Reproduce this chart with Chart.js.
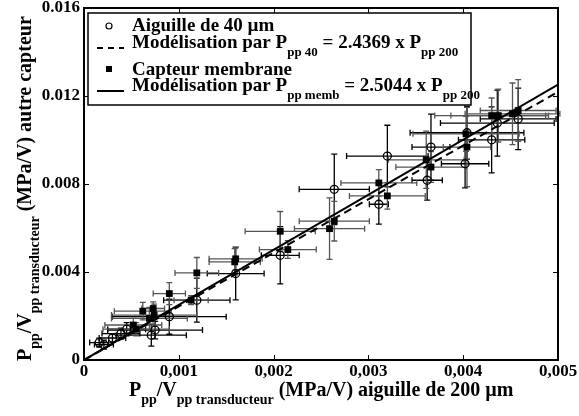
<!DOCTYPE html>
<html>
<head>
<meta charset="utf-8">
<script src="https://cdn.jsdelivr.net/npm/chart.js@4.4.1/dist/chart.umd.min.js"></script>
<style>
  html, body { margin: 0; padding: 0; background: #fff; }
  #wrap { width: 579px; height: 416px; }
</style>
</head>
<body>
<div id="wrap"><canvas id="chart" width="579" height="416"></canvas></div>
<script>
// Aiguille de 40 µm (open circles)
const needleX    = [0.00016, 0.00021, 0.00030, 0.00039, 0.00045, 0.00071, 0.00075, 0.00090, 0.00119, 0.00160, 0.00207,
                    0.00264, 0.00311, 0.00320, 0.00362, 0.00366, 0.00402, 0.00404, 0.00430, 0.00436, 0.00458];
const needleY    = [0.00079, 0.00070, 0.00100, 0.00120, 0.00140, 0.00113, 0.00136, 0.00197, 0.00272, 0.00393, 0.00476,
                    0.00776, 0.00708, 0.00927, 0.00817, 0.00968, 0.00892, 0.01033, 0.01001, 0.01077, 0.01096];
const needleXErr = [0.00010, 0.00010, 0.00014, 0.00020, 0.00020, 0.00037, 0.00050, 0.00060, 0.00035, 0.00030, 0.00020,
                    0.00037, 0.00010, 0.00043, 0.00016, 0.00020, 0.00025, 0.00060, 0.00035, 0.00060, 0.00040];
const needleYErr = [0.00020, 0.00020, 0.00020, 0.00025, 0.00030, 0.00050, 0.00040, 0.00080, 0.00100, 0.00120, 0.00130,
                    0.00160, 0.00090, 0.00140, 0.00090, 0.00150, 0.00110, 0.00120, 0.00150, 0.00150, 0.00140];

// Capteur membrane (filled squares)
const membX    = [0.00052, 0.00055, 0.00062, 0.00069, 0.00073, 0.00074, 0.00090, 0.00113, 0.00119, 0.00159, 0.00160,
                  0.00207, 0.00215, 0.00259, 0.00264, 0.00311, 0.00320, 0.00361, 0.00366, 0.00403, 0.00404,
                  0.00430, 0.00437, 0.00452, 0.00458];
const membY    = [0.00159, 0.00140, 0.00222, 0.00189, 0.00234, 0.00204, 0.00302, 0.00272, 0.00396, 0.00446, 0.00460,
                  0.00585, 0.00502, 0.00597, 0.00631, 0.00805, 0.00746, 0.00910, 0.00877, 0.01028, 0.00968,
                  0.01111, 0.01111, 0.01119, 0.01134];
const membXErr = [0.00030, 0.00035, 0.00030, 0.00040, 0.00012, 0.00045, 0.00017, 0.00018, 0.00023, 0.00027, 0.00028,
                  0.00037, 0.00030, 0.00037, 0.00037, 0.00040, 0.00040, 0.00040, 0.00037, 0.00056, 0.00025,
                  0.00060, 0.00050, 0.00050, 0.00040];
const membYErr = [0.00030, 0.00030, 0.00040, 0.00050, 0.00030, 0.00050, 0.00050, 0.00020, 0.00070, 0.00060, 0.00050,
                  0.00090, 0.00040, 0.00140, 0.00090, 0.00060, 0.00060, 0.00130, 0.00070, 0.00080, 0.00180,
                  0.00080, 0.00120, 0.00140, 0.00140];

// fitted slopes
const slope40 = 2.4369;
const slopeMemb = 2.5044;
const fitX = [0, 0.005];

const xTicks = [0, 0.001, 0.002, 0.003, 0.004, 0.005];
const xTickLabels = ['0', '0,001', '0,002', '0,003', '0,004', '0,005'];
const yTicks = [0, 0.004, 0.008, 0.012, 0.016];
const yTickLabels = ['0', '0.004', '0.008', '0.012', '0.016'];

const FONT = '"Liberation Serif", "Times New Roman", serif';
const toPts = (xs, ys) => xs.map((x, i) => ({ x: x, y: ys[i] }));

// draws text runs with subscripts starting at (x, y) baseline
function drawRich(ctx, parts, x, y, size, subSize) {
    let cx = x;
    parts.forEach(p => {
        ctx.font = 'bold ' + (p.sub ? subSize : size) + 'px ' + FONT;
        ctx.fillText(p.t, cx, p.sub ? y + 8 : y);
        cx += ctx.measureText(p.t).width;
    });
}

const errorBars = {
    id: 'errorBars',
    beforeDatasetsDraw(chart) {
        const ctx = chart.ctx;
        const xs = chart.scales.x, ys = chart.scales.y;
        ctx.save();
        ctx.lineWidth = 1.3;
        chart.data.datasets.forEach(ds => {
            if (!ds.errX) return;
            ctx.strokeStyle = ds.errColor;
            ds.data.forEach((p, i) => {
                const px = xs.getPixelForValue(p.x), py = ys.getPixelForValue(p.y);
                const x0 = xs.getPixelForValue(p.x - ds.errX[i]), x1 = xs.getPixelForValue(p.x + ds.errX[i]);
                const y0 = ys.getPixelForValue(p.y - ds.errY[i]), y1 = ys.getPixelForValue(p.y + ds.errY[i]);
                ctx.beginPath();
                ctx.moveTo(x0, py); ctx.lineTo(x1, py);
                ctx.moveTo(x0, py - 3); ctx.lineTo(x0, py + 3);
                ctx.moveTo(x1, py - 3); ctx.lineTo(x1, py + 3);
                ctx.moveTo(px, y0); ctx.lineTo(px, y1);
                ctx.moveTo(px - 3, y0); ctx.lineTo(px + 3, y0);
                ctx.moveTo(px - 3, y1); ctx.lineTo(px + 3, y1);
                ctx.stroke();
            });
        });
        ctx.restore();
    }
};

const frameAndText = {
    id: 'frameAndText',
    afterDraw(chart) {
        const ctx = chart.ctx;
        const a = chart.chartArea;
        const xs = chart.scales.x, ys = chart.scales.y;
        ctx.save();
        ctx.strokeStyle = '#000';
        ctx.fillStyle = '#000';

        // frame
        ctx.lineWidth = 2;
        ctx.strokeRect(a.left, a.top, a.right - a.left, a.bottom - a.top);

        // inward ticks on all four sides
        ctx.lineWidth = 1;
        ctx.beginPath();
        xTicks.forEach(v => {
            const px = Math.round(xs.getPixelForValue(v)) + 0.5;
            ctx.moveTo(px, a.bottom); ctx.lineTo(px, a.bottom - 5);
            ctx.moveTo(px, a.top); ctx.lineTo(px, a.top + 5);
        });
        yTicks.forEach(v => {
            const py = Math.round(ys.getPixelForValue(v)) + 0.5;
            ctx.moveTo(a.left, py); ctx.lineTo(a.left + 5, py);
            ctx.moveTo(a.right, py); ctx.lineTo(a.right - 5, py);
        });
        ctx.stroke();

        // tick labels
        ctx.font = 'bold 17px ' + FONT;
        ctx.textAlign = 'center';
        ctx.textBaseline = 'top';
        xTicks.forEach((v, i) => ctx.fillText(xTickLabels[i], xs.getPixelForValue(v), a.bottom + 3));
        ctx.textAlign = 'right';
        ctx.textBaseline = 'middle';
        yTicks.forEach((v, i) => ctx.fillText(yTickLabels[i], a.left - 4, ys.getPixelForValue(v)));

        // axis titles
        ctx.textAlign = 'left';
        ctx.textBaseline = 'alphabetic';
        drawRich(ctx, [
            { t: 'P' }, { t: 'pp', sub: true }, { t: '/V' }, { t: 'pp transducteur', sub: true },
            { t: ' (MPa/V) aiguille de 200 µm' }
        ], 129, 396, 20, 14);

        ctx.save();
        ctx.translate(31, 361);
        ctx.rotate(-Math.PI / 2);
        drawRich(ctx, [
            { t: 'P' }, { t: 'pp', sub: true }, { t: '/V' }, { t: 'pp transducteur', sub: true },
            { t: ' (MPa/V) autre capteur' }
        ], 0, 0, 20, 14);
        ctx.restore();

        // legend
        ctx.fillStyle = '#fff';
        ctx.fillRect(88, 13, 383, 92);
        ctx.lineWidth = 1.5;
        ctx.strokeRect(88, 13, 383, 92);
        ctx.fillStyle = '#000';

        ctx.lineWidth = 1.2;
        ctx.beginPath();
        ctx.arc(109, 26, 3, 0, Math.PI * 2);
        ctx.stroke();
        ctx.fillRect(106, 66, 6, 6);

        ctx.lineWidth = 2;
        ctx.setLineDash([6, 5]);
        ctx.beginPath();
        ctx.moveTo(97, 48); ctx.lineTo(124, 48);
        ctx.stroke();
        ctx.setLineDash([]);
        ctx.beginPath();
        ctx.moveTo(97, 91); ctx.lineTo(124, 91);
        ctx.stroke();

        drawRich(ctx, [{ t: 'Aiguille de 40 µm' }], 132, 31, 19, 13);
        drawRich(ctx, [
            { t: 'Modélisation par P' }, { t: 'pp 40', sub: true }, { t: ' = 2.4369 x P' }, { t: 'pp 200', sub: true }
        ], 132, 48, 19, 13);
        drawRich(ctx, [{ t: 'Capteur membrane' }], 132, 75, 19, 13);
        drawRich(ctx, [
            { t: 'Modélisation par P' }, { t: 'pp memb', sub: true }, { t: ' = 2.5044 x P' }, { t: 'pp 200', sub: true }
        ], 132, 91, 19, 13);

        ctx.restore();
    }
};

new Chart(document.getElementById('chart'), {
    type: 'scatter',
    data: {
        datasets: [
            {
                label: 'Aiguille de 40 µm',
                data: toPts(needleX, needleY),
                errX: needleXErr,
                errY: needleYErr,
                errColor: '#000',
                pointStyle: 'circle',
                pointRadius: 4,
                borderWidth: 1.3,
                borderColor: '#000',
                backgroundColor: 'rgba(0,0,0,0)'
            },
            {
                label: 'Capteur membrane',
                data: toPts(membX, membY),
                errX: membXErr,
                errY: membYErr,
                errColor: '#555',
                pointStyle: 'rect',
                pointRadius: 4.8,
                borderWidth: 0,
                borderColor: '#000',
                backgroundColor: '#000'
            },
            {
                type: 'line',
                label: 'Modélisation 40',
                data: fitX.map(x => ({ x: x, y: slope40 * x })),
                borderColor: '#000',
                borderWidth: 2,
                borderDash: [8, 5],
                pointRadius: 0,
                fill: false
            },
            {
                type: 'line',
                label: 'Modélisation memb',
                data: fitX.map(x => ({ x: x, y: slopeMemb * x })),
                borderColor: '#000',
                borderWidth: 2,
                pointRadius: 0,
                fill: false
            }
        ]
    },
    options: {
        responsive: false,
        animation: false,
        layout: { padding: { left: 84, right: 21, top: 8, bottom: 56 } },
        plugins: {
            legend: { display: false },
            tooltip: { enabled: false }
        },
        scales: {
            x: { type: 'linear', min: 0, max: 0.005, display: false },
            y: { type: 'linear', min: 0, max: 0.016, display: false }
        }
    },
    plugins: [errorBars, frameAndText]
});
</script>
</body>
</html>
